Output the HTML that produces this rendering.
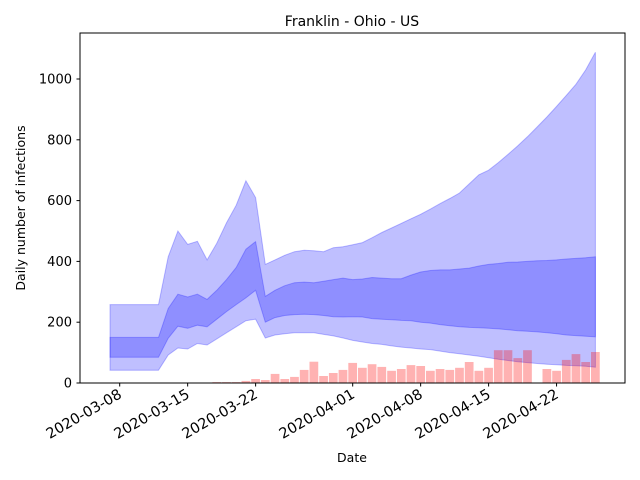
<!DOCTYPE html>
<html><head><meta charset="utf-8"><style>
body{margin:0;background:#fff}
svg{display:block;font-family:"DejaVu Sans","Liberation Sans",sans-serif}
</style></head><body>
<svg id="chart" width="640" height="480" viewBox="0 0 640 480">
<text x="352" y="26" font-size="14" text-anchor="middle">Franklin - Ohio - US</text>
<g id="plot"></g>
<rect x="80" y="33" width="545" height="350" fill="none" stroke="#000" stroke-width="1"/>
<text x="352" y="462" font-size="12.5" text-anchor="middle">Date</text>
<text transform="translate(25,208) rotate(-90)" font-size="12.5" text-anchor="middle">Daily number of infections</text>
</svg>
<script>
const bandDayStart = -1;
const outerUpper = [258,258,258,258,258,258,415,500,456,466,405,460,527,585,665,610,390,405,420,432,437,435,432,445,448,455,462,478,495,510,525,540,555,572,590,607,625,655,685,700,725,752,780,810,842,875,910,946,983,1030,1088];
const innerUpper = [150,150,150,150,150,150,245,292,283,292,275,305,340,380,440,465,285,305,320,330,332,330,335,340,345,340,342,347,345,343,343,355,365,370,372,372,375,378,385,390,393,397,398,400,402,403,405,408,410,412,415];
const innerLower = [85,85,85,85,85,85,147,187,180,190,185,210,235,258,280,305,200,215,222,225,226,225,222,218,217,218,217,212,210,208,206,205,200,197,192,188,185,183,182,180,178,175,172,170,168,165,162,158,156,154,152];
const outerLower = [42,42,42,42,42,42,92,115,112,130,125,145,165,185,205,210,148,158,162,165,165,165,160,155,148,140,135,130,127,122,118,115,112,110,105,100,96,92,88,83,78,74,70,67,64,62,60,58,57,55,52];
const barDayStart = 10;
const barValues = [3,3,3,7,13,10,30,13,20,43,70,23,33,43,66,50,62,53,40,46,59,56,40,46,43,50,69,40,50,108,108,82,108,0,46,40,76,95,69,102];
const yTicks = [0,200,400,600,800,1000];
const xTickDays = [0,7,14,24,31,38,45];
const xTickLabels = ["2020-03-08","2020-03-15","2020-03-22","2020-04-01","2020-04-08","2020-04-15","2020-04-22"];

const NS="http://www.w3.org/2000/svg";
const X = d => 119.7 + d*9.708;
const Y = v => 383 - v*0.304;
const plot = document.getElementById('plot');
const svg = document.getElementById('chart');
function mk(tag, attrs, parent){const e=document.createElementNS(NS,tag);for(const k in attrs)e.setAttribute(k,attrs[k]);(parent||plot).appendChild(e);return e;}
function band(up, lo, name){
  let pts=[];
  up.forEach((v,i)=>pts.push(X(bandDayStart+i).toFixed(1)+","+Y(v).toFixed(1)));
  for(let i=lo.length-1;i>=0;i--)pts.push(X(bandDayStart+i).toFixed(1)+","+Y(lo[i]).toFixed(1));
  const p=mk('polygon',{points:pts.join(' '),fill:'#0000ff','fill-opacity':0.25,stroke:'#0000ff','stroke-opacity':0.25,'stroke-width':1});
  
  
}
band(outerUpper, outerLower, 'outer-band');
band(innerUpper, innerLower, 'inner-band');
barValues.forEach((v,i)=>{
  if(!v)return;
  const d=barDayStart+i;
  const r=mk('rect',{x:(X(d)-4.37).toFixed(1),y:Y(v).toFixed(1),width:8.74,height:(v*0.304).toFixed(1),fill:'#ff0000','fill-opacity':0.3});
  
  
});
yTicks.forEach(t=>{
  const y=Y(t);
  const l=mk('line',{x1:76.5,x2:80,y1:y,y2:y,stroke:'#000'},svg);
  
  
  const tx=mk('text',{x:72,y:y+4.5,'font-size':13,'text-anchor':'end'},svg);
  tx.textContent=t;
  
  
});
xTickDays.forEach((d,i)=>{
  const x=X(d);
  const l=mk('line',{x1:x,x2:x,y1:383,y2:386.5,stroke:'#000'},svg);
  
  
  const tx=mk('text',{transform:`translate(${x+3},${397}) rotate(-30)`,'font-size':14.5,'text-anchor':'end'},svg);
  tx.textContent=xTickLabels[i];
  
  
});
</script>
</body></html>
